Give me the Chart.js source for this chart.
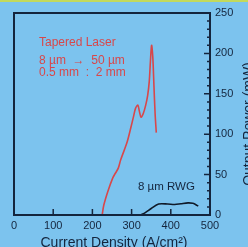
<!DOCTYPE html>
<html>
<head>
<meta charset="utf-8">
<script src="https://cdn.jsdelivr.net/npm/chart.js@4"></script>
<style>
  html, body { margin: 0; padding: 0; background: #7cc3ee; overflow: hidden; }
  #wrap { width: 248px; height: 247px; }
</style>
</head>
<body>
<div id="wrap"><canvas id="power-chart" width="248" height="247"></canvas></div>
<script>
// tapered laser (red)
const taperedX = [225, 229, 240, 252, 259, 266, 272, 281, 289, 298, 305, 310, 316, 320, 324, 330, 336, 341, 345, 348, 351, 354, 357, 360, 363];
const taperedY = [0, 12, 30, 46, 52, 58, 68, 80, 91, 108, 122, 132, 136, 128, 121, 126, 136, 148, 165, 190, 210, 196, 160, 125, 102];
// 8 um RWG (black)
const rwgX = [323, 335, 350, 369, 392, 410, 426, 444, 456, 463, 470];
const rwgY = [0, 3, 8, 13.6, 13.6, 13, 14, 15, 14.5, 13, 11];

const xTicks = [0, 100, 200, 300, 400, 500];
const yTicks = [0, 50, 100, 150, 200, 250];

const navy = '#14253d';
const font = 'Liberation Sans, Arial, sans-serif';

function toPoints(xs, ys) {
  return xs.map((x, i) => ({x: x, y: ys[i]}));
}

const frame = {
  id: 'frame',
  beforeDraw(chart) {
    const c = chart.ctx;
    c.save();
    c.fillStyle = '#7cc3ee';
    c.fillRect(0, 0, chart.width, chart.height);
    c.fillStyle = '#c2d95c';
    c.fillRect(0, 0, chart.width, 2);
    c.restore();
  },
  afterDraw(chart) {
    const c = chart.ctx;
    const a = chart.chartArea;
    const xs = chart.scales.x, ys = chart.scales.y;
    c.save();
    c.strokeStyle = navy;
    c.lineWidth = 2;
    c.strokeRect(a.left, a.top, a.right - a.left, a.bottom - a.top);
    c.lineWidth = 1.5;
    c.beginPath();
    xTicks.slice(1, -1).forEach(v => {
      const px = xs.getPixelForValue(v);
      c.moveTo(px, a.bottom);
      c.lineTo(px, a.bottom - 6);
    });
    for (let v = 10; v < 250; v += 10) {
      const py = ys.getPixelForValue(v);
      const len = v % 50 === 0 ? 6 : 3;
      c.moveTo(a.right, py);
      c.lineTo(a.right - len, py);
    }
    c.stroke();

    c.fillStyle = '#d8474a';
    c.font = '12px ' + font;
    c.textBaseline = 'middle';
    c.fillText('Tapered Laser', 39, 43);
    c.fillText('8 µm  \u2192  50 µm', 39, 61);
    c.fillText('0.5 mm  :  2 mm', 39, 73);

    c.fillStyle = navy;
    c.font = '11.5px ' + font;
    c.fillText('8 µm RWG', 138, 187);

    c.font = '14px ' + font;
    c.textAlign = 'center';
    c.fillText('Current Density (A/cm\u00b2)', 114, 243);
    c.translate(249, 124);
    c.rotate(-Math.PI / 2);
    c.fillText('Output Power (mW)', 0, 0);
    c.restore();
  }
};

new Chart(document.querySelector('#power-chart').getContext('2d'), {
  type: 'line',
  data: {
    datasets: [{
      label: 'Tapered Laser',
      data: toPoints(taperedX, taperedY),
      borderColor: '#d8474a',
      borderWidth: 1.6,
      pointRadius: 0,
      tension: 0.3
    }, {
      label: '8 um RWG',
      data: toPoints(rwgX, rwgY),
      borderColor: '#101a28',
      borderWidth: 1.6,
      pointRadius: 0,
      tension: 0.3
    }]
  },
  options: {
    responsive: false,
    animation: false,
    layout: { padding: { left: 14, top: 13, right: 0, bottom: 0 } },
    plugins: { legend: { display: false }, tooltip: { enabled: false } },
    scales: {
      x: {
        type: 'linear',
        min: 0,
        max: 500,
        afterFit(scale) { scale.height = 32; },
        afterBuildTicks(scale) { scale.ticks = xTicks.map(v => ({value: v})); },
        grid: { display: false, drawTicks: false, tickLength: 0 },
        border: { display: false },
        ticks: { color: navy, font: { family: font, size: 11 }, padding: 4, maxRotation: 0 }
      },
      y: {
        position: 'right',
        min: 0,
        max: 250,
        afterFit(scale) { scale.width = 38; },
        afterBuildTicks(scale) { scale.ticks = yTicks.map(v => ({value: v})); },
        grid: { display: false, drawTicks: false, tickLength: 0 },
        border: { display: false },
        ticks: { color: navy, font: { family: font, size: 11 }, padding: 5 }
      }
    }
  },
  plugins: [frame]
});
</script>
</body>
</html>
